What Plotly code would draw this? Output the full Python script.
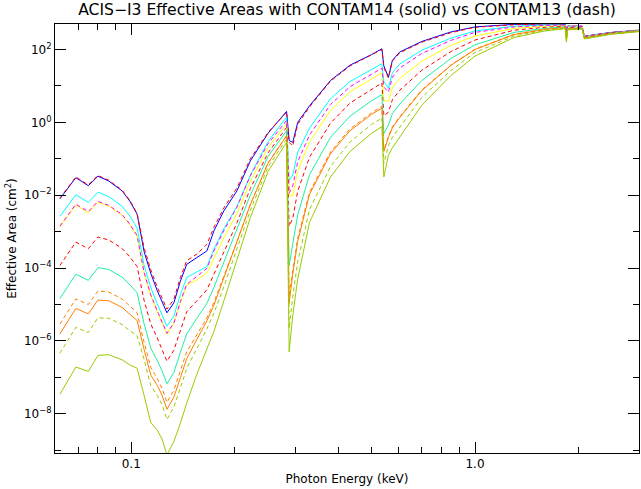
import plotly.graph_objects as go

# Photon energy grid (keV)
energy_kev = [0.062, 0.069, 0.075, 0.080, 0.086, 0.094, 0.099, 0.104, 0.109, 0.114,
              0.119, 0.123, 0.127, 0.133, 0.139, 0.145, 0.155, 0.166, 0.174, 0.186,
              0.203, 0.222, 0.250, 0.283, 0.288, 0.295, 0.305, 0.330, 0.380, 0.433,
              0.500, 0.536, 0.543, 0.560, 0.575, 0.604, 0.700, 0.850, 1.000, 1.300,
              1.600, 1.830, 1.845, 1.860, 2.050, 2.080, 2.200, 2.500, 3.000]

# log10 of effective area (cm^2)
blue_solid = [-2.10, -1.52, -1.74, -1.48, -1.61, -1.88, -2.16, -2.52, -3.55, -4.15,
              -4.62, -4.95, -5.23, -4.96, -4.36, -3.90, -3.72, -3.53, -2.98, -2.43,
              -1.88, -1.06, -0.30, 0.30, -0.50, -0.55, 0.00, 0.45, 1.15, 1.57,
              1.86, 2.02, 1.55, 1.24, 1.70, 1.93, 2.22, 2.48, 2.62, 2.69,
              2.70, 2.69, 2.55, 2.64, 2.64, 2.36, 2.40, 2.47, 2.53]
red_dash_a = [-2.08, -1.50, -1.72, -1.46, -1.59, -1.86, -2.14, -2.50, -3.45, -4.05,
              -4.52, -4.85, -5.13, -4.86, -4.26, -3.80, -3.62, -3.35, -2.88, -2.35,
              -1.80, -1.00, -0.28, 0.28, -0.55, -0.65, -0.05, 0.42, 1.13, 1.55,
              1.84, 2.00, 1.50, 1.22, 1.68, 1.91, 2.20, 2.46, 2.61, 2.68,
              2.70, 2.69, 2.54, 2.64, 2.64, 2.36, 2.40, 2.47, 2.53]
cyan_solid = [-2.58, -1.99, -2.20, -1.92, -2.04, -2.30, -2.57, -2.90, -3.93, -4.54,
              -4.98, -5.31, -5.60, -5.32, -4.73, -4.26, -4.11, -3.96, -3.48, -2.92,
              -2.31, -1.45, -0.53, 0.14, -1.60, -1.45, -0.82, -0.16, 0.65, 1.12,
              1.45, 1.61, 1.12, 0.94, 1.36, 1.60, 1.98, 2.31, 2.51, 2.64,
              2.67, 2.67, 2.50, 2.63, 2.63, 2.35, 2.39, 2.46, 2.52]
magenta_dash = [-2.85, -2.25, -2.45, -2.17, -2.28, -2.53, -2.79, -3.11, -4.12, -4.74,
                -5.17, -5.49, -5.79, -5.51, -4.92, -4.45, -4.23, -4.01, -3.53, -2.97,
                -2.33, -1.47, -0.59, 0.05, -1.95, -1.74, -1.08, -0.35, 0.49, 0.98,
                1.32, 1.49, 0.97, 0.83, 1.24, 1.49, 1.89, 2.25, 2.47, 2.62,
                2.66, 2.67, 2.48, 2.62, 2.63, 2.35, 2.39, 2.46, 2.52]
yellow_solid = [-2.88, -2.27, -2.48, -2.19, -2.30, -2.55, -2.81, -3.13, -4.14, -4.77,
                -5.20, -5.51, -5.82, -5.53, -4.95, -4.47, -4.33, -4.14, -3.73, -3.17,
                -2.50, -1.62, -0.70, -0.04, -2.01, -2.02, -1.33, -0.54, 0.33, 0.84,
                1.19, 1.36, 0.60, 0.58, 0.96, 1.20, 1.68, 2.11, 2.37, 2.58,
                2.64, 2.65, 2.44, 2.61, 2.62, 2.34, 2.38, 2.45, 2.52]
red_dash_b = [-3.93, -3.29, -3.47, -3.15, -3.23, -3.46, -3.69, -3.96, -4.89, -5.54,
              -5.92, -6.23, -6.56, -6.26, -5.69, -5.20, -4.91, -4.60, -4.17, -3.54,
              -2.76, -1.82, -0.84, -0.14, -2.85, -2.64, -1.89, -0.96, -0.02, 0.53,
              0.91, 1.08, 0.18, 0.28, 0.62, 0.88, 1.43, 1.94, 2.26, 2.53,
              2.61, 2.64, 2.39, 2.60, 2.60, 2.33, 2.37, 2.45, 2.51]
green_solid = [-4.84, -4.17, -4.34, -3.99, -4.04, -4.25, -4.46, -4.68, -5.53, -6.20,
               -6.54, -6.83, -7.18, -6.87, -6.31, -5.81, -5.39, -4.97, -4.53, -3.84,
               -2.98, -2.00, -0.94, -0.23, -3.92, -3.35, -2.54, -1.44, -0.41, 0.17,
               0.59, 0.76, -0.31, -0.07, 0.24, 0.50, 1.15, 1.75, 2.13, 2.47,
               2.58, 2.62, 2.34, 2.58, 2.59, 2.32, 2.36, 2.44, 2.51]
orange_dash = [-5.54, -4.85, -5.00, -4.63, -4.66, -4.85, -5.04, -5.23, -6.04, -6.73,
               -7.03, -7.31, -7.69, -7.36, -6.82, -6.30, -5.84, -5.37, -4.94, -4.23,
               -3.28, -2.26, -1.12, -0.37, -4.79, -4.07, -3.18, -1.92, -0.81, -0.18,
               0.26, 0.44, -0.77, -0.39, -0.12, 0.15, 0.89, 1.57, 2.01, 2.42,
               2.56, 2.60, 2.28, 2.56, 2.58, 2.31, 2.35, 2.43, 2.50]
orange_solid = [-5.81, -5.11, -5.26, -4.88, -4.90, -5.08, -5.27, -5.44, -6.24, -6.94,
                -7.22, -7.50, -7.88, -7.55, -7.01, -6.49, -5.97, -5.45, -5.02, -4.28,
                -3.30, -2.26, -1.12, -0.37, -4.97, -4.16, -3.27, -1.98, -0.86, -0.23,
                0.22, 0.39, -0.80, -0.41, -0.15, 0.13, 0.87, 1.56, 2.00, 2.41,
                2.55, 2.60, 2.28, 2.56, 2.58, 2.31, 2.35, 2.43, 2.50]
olive_dash = [-6.34, -5.63, -5.77, -5.37, -5.38, -5.55, -5.72, -5.86, -6.51, -7.23,
              -7.49, -7.76, -8.16, -7.82, -7.29, -6.76, -6.22, -5.67, -5.24, -4.51,
              -3.47, -2.42, -1.22, -0.46, -5.66, -4.78, -3.83, -2.40, -1.21, -0.54,
              -0.06, 0.12, -1.13, -0.64, -0.41, -0.13, 0.68, 1.42, 1.92, 2.37,
              2.53, 2.58, 2.24, 2.55, 2.57, 2.30, 2.34, 2.43, 2.50]
olive_solid = [-7.47, -6.72, -6.84, -6.40, -6.38, -6.52, -6.66, -6.75, -7.50, -8.25,
               -8.45, -8.70, -9.13, -8.77, -8.26, -7.71, -6.93, -6.20, -5.74, -4.90,
               -3.75, -2.62, -1.35, -0.55, -6.30, -5.30, -4.30, -2.75, -1.50, -0.80,
               -0.30, -0.12, -1.50, -0.90, -0.70, -0.41, 0.47, 1.28, 1.82, 2.33,
               2.51, 2.57, 2.20, 2.54, 2.56, 2.29, 2.33, 2.42, 2.49]

series = [
    ("blue solid", blue_solid, "#0000ff", "solid"),
    ("red dash", red_dash_a, "#ff0000", "4px,3px"),
    ("cyan solid", cyan_solid, "#00ffff", "solid"),
    ("yellow solid", yellow_solid, "#ffff00", "solid"),
    ("magenta dash", magenta_dash, "#ff00ff", "4px,3px"),
    ("red dash 2", red_dash_b, "#ff0000", "4px,3px"),
    ("green solid", green_solid, "#1ef0a0", "solid"),
    ("orange dash", orange_dash, "#ff8000", "4px,3px"),
    ("orange solid", orange_solid, "#ff8000", "solid"),
    ("olive dash", olive_dash, "#99cc00", "4px,3px"),
    ("olive solid", olive_solid, "#99cc00", "solid"),
]

x_major = [0.1, 1.0]
x_major_text = ["0.1", "1.0"]
x_minor = [0.07, 0.08, 0.09, 0.2, 0.3, 0.4, 0.5, 0.6, 0.7, 0.8, 0.9, 2.0, 3.0]
y_major = [1e-8, 1e-6, 1e-4, 1e-2, 1.0, 1e2]
y_major_text = ["10<sup>\u22128</sup>", "10<sup>\u22126</sup>", "10<sup>\u22124</sup>",
                "10<sup>\u22122</sup>", "10<sup>0</sup>", "10<sup>2</sup>"]
y_minor = [1e-9, 1e-7, 1e-5, 1e-3, 1e-1, 1e1]

fig = go.Figure()
for name, logvals, color, dash in series:
    fig.add_trace(go.Scatter(
        x=energy_kev, y=[10 ** v for v in logvals], mode="lines", name=name,
        line=dict(color=color, width=1, dash=dash), hoverinfo="skip"))

font = "DejaVu Sans, Liberation Sans, sans-serif"
fig.update_layout(
    width=641, height=489,
    margin=dict(l=55, r=2, t=24, b=36),
    paper_bgcolor="white", plot_bgcolor="white",
    showlegend=False,
    font=dict(family=font, size=12, color="black"),
    title=dict(text="ACIS\u2212I3 Effective Areas with CONTAM14 (solid) vs CONTAM13 (dash)",
               xref="paper", x=0.5, xanchor="center", y=0.992, yanchor="top",
               font=dict(family=font, size=15.6, color="black")),
)
fig.update_xaxes(
    type="log", range=[-1.2218, 0.4771],
    tickmode="array", tickvals=x_major, ticktext=x_major_text,
    ticks="inside", ticklen=11, tickwidth=1, tickcolor="black",
    minor=dict(tickmode="array", tickvals=x_minor, ticks="inside", ticklen=6,
               tickwidth=1, tickcolor="black", showgrid=False),
    showline=True, linecolor="black", linewidth=1, mirror="ticks",
    showgrid=False, zeroline=False,
    tickfont=dict(size=12),
    title=dict(text="Photon Energy (keV)", font=dict(size=12), standoff=4),
)
fig.update_yaxes(
    type="log", range=[-9.08, 2.70],
    tickmode="array", tickvals=y_major, ticktext=y_major_text,
    ticks="inside", ticklen=11, tickwidth=1, tickcolor="black",
    minor=dict(tickmode="array", tickvals=y_minor, ticks="inside", ticklen=6,
               tickwidth=1, tickcolor="black", showgrid=False),
    showline=True, linecolor="black", linewidth=1, mirror="ticks",
    showgrid=False, zeroline=False,
    tickfont=dict(size=12),
    title=dict(text="Effective Area (cm<sup>2</sup>)", font=dict(size=12), standoff=4),
)

fig.write_html("out.html", config={"displayModeBar": False},
               post_script="document.body.style.margin='0px';")
